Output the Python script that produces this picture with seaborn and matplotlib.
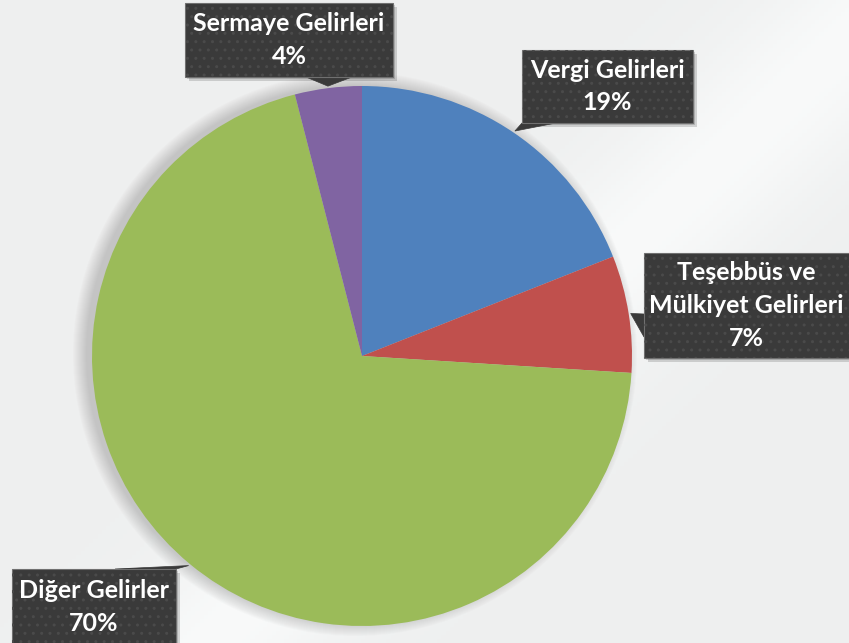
import numpy as np
import matplotlib
matplotlib.use("Agg")
import matplotlib.pyplot as plt
import seaborn as sns
from matplotlib.patches import Rectangle, Polygon, Circle

sns.set_theme(style="white")
plt.rcParams["font.family"] = ["Lato", "DejaVu Sans"]

# data
categories = ["Vergi Gelirleri", "Teşebbüs ve\nMülkiyet Gelirleri", "Diğer Gelirler", "Sermaye Gelirleri"]
shares = [19, 7, 70, 4]
colors = ["#4f81bd", "#c0504d", "#9bbb59", "#8064a2"]

# callout boxes (pixel coords: x0, y0, x1, y1) and pointer base points
boxes = [(522, 50, 693, 123), (644, 253, 852, 358), (12, 569, 176, 650), (185, 3, 393, 77)]
bases = [[(522, 123), (556, 123)], [(644, 314), (644, 337)],
         [(115, 569), (176, 569)], [(306, 77), (352, 77)]]

W, H = 849, 643
cx, cy, r = 362, 356, 270

fig = plt.figure(figsize=(W / 100, H / 100), dpi=100)
ax = fig.add_axes([0, 0, 1, 1])
ax.set_xlim(0, W)
ax.set_ylim(H, 0)
ax.axis("off")

# background
gx = np.linspace(0, 1, 200)
gy = np.linspace(0, 1, 160)
GX, GY = np.meshgrid(gx, gy)
band = np.exp(-((GX - 0.85) + (GY - 0.25) * 0.8) ** 2 / 0.02)
base = 0.935 + 0.04 * band
bg = np.dstack([base, base + 0.005, base + 0.005])
ax.imshow(np.clip(bg, 0, 1), extent=[0, W, H, 0], zorder=0, aspect="auto")

# soft shadow behind pie (mostly to the left)
for k in range(14):
    ax.add_patch(Circle((cx - 7, cy - 2), r + 12 - k, color="#555555", alpha=0.018, lw=0, zorder=1))

wedges, _ = ax.pie(shares, colors=colors, startangle=-90, counterclock=True,
                   center=(cx, cy), radius=r, frame=True,
                   wedgeprops=dict(linewidth=0), normalize=True)
for w in wedges:
    w.set_zorder(2)
ax.set_xlim(0, W)
ax.set_ylim(H, 0)
ax.axis("off")

for w, lab, pct, (x0, y0, x1, y1), bp in zip(wedges, categories, shares, boxes, bases):
    mid = np.deg2rad((w.theta1 + w.theta2) / 2)
    tip = (cx + (r + 2) * np.cos(mid), cy + (r + 2) * np.sin(mid))
    # shadow
    ax.add_patch(Rectangle((x0 + 4, y0 + 4), x1 - x0, y1 - y0, color="#000000", alpha=0.15, lw=0, zorder=3))
    ax.add_patch(Rectangle((x0 + 2, y0 + 2), x1 - x0, y1 - y0, color="#000000", alpha=0.15, lw=0, zorder=3))
    ax.add_patch(Polygon([bp[0], tip, bp[1]], closed=True, facecolor="#3a3a3a", edgecolor="#3a3a3a", lw=0.5, zorder=4))
    ax.add_patch(Rectangle((x0, y0), x1 - x0, y1 - y0, facecolor="#3a3a3a", edgecolor="#707070", lw=0.8, zorder=4))
    ax.add_patch(Rectangle((x0, y0), x1 - x0, y1 - y0, facecolor="none", edgecolor="#4a4a4a",
                           hatch="..", lw=0, zorder=5))
    tx = (x0 + min(x1, W)) / 2
    ty = (y0 + min(y1, H + 2)) / 2
    ax.text(tx, ty, f"{lab}\n{pct}%", color="white", fontsize=18, fontweight="bold",
            ha="center", va="center", linespacing=1.5, zorder=6)

fig.savefig("out.png", dpi=100)
